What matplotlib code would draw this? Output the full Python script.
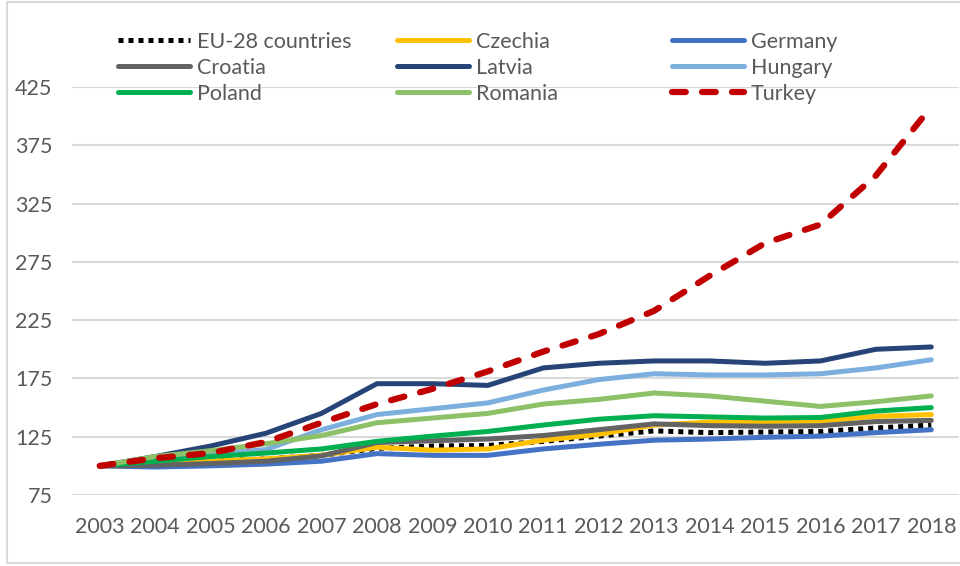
import matplotlib
matplotlib.use("Agg")
import matplotlib.pyplot as plt
from matplotlib.patches import Rectangle

plt.rcParams['font.family'] = ['Lato', 'DejaVu Sans']

years = ["2003", "2004", "2005", "2006", "2007", "2008", "2009", "2010",
         "2011", "2012", "2013", "2014", "2015", "2016", "2017", "2018"]

eu28    = [100, 102, 104, 106, 109, 115, 117, 117.5, 121, 125.5, 130, 128.5, 129, 129.5, 132.5, 135]
czechia = [100, 102, 104, 106, 109, 116, 113.5, 114.5, 122, 127, 135, 137.5, 138, 138.5, 142.5, 144]
germany = [100, 99, 100, 101.5, 104, 110.5, 109, 109, 114.5, 118.5, 122, 123, 124.5, 125.5, 128.5, 131]
croatia = [100, 100.5, 102, 104, 108.5, 120, 121.5, 123, 126, 131, 136, 134.5, 134, 134.5, 138, 139]
latvia  = [100, 108, 117, 128, 145, 170.5, 170.5, 169, 184, 188, 190, 190, 188, 190, 200, 202]
hungary = [100, 106, 110, 114, 131, 144, 149, 154, 165, 174, 179, 178, 178, 179, 184, 191]
poland  = [100, 104, 108, 111, 114.5, 121, 125.5, 129.5, 135, 140, 143, 142, 141, 141.5, 147, 150]
romania = [100, 108, 113, 119, 126, 137, 141, 145, 153, 157, 162.5, 160, 155.5, 151, 155, 160]
turkey  = [100, 106.5, 111, 120.5, 137, 153, 166, 181, 198, 213, 233, 263, 291, 307, 349, 408]

y_ticks = [75, 125, 175, 225, 275, 325, 375, 425]

series = [
    ("EU-28 countries", eu28,    "#000000", "dot"),
    ("Czechia",         czechia, "#FFC000", "solid"),
    ("Germany",         germany, "#4472C4", "solid"),
    ("Croatia",         croatia, "#636363", "solid"),
    ("Latvia",          latvia,  "#264478", "solid"),
    ("Hungary",         hungary, "#7DAFDE", "solid"),
    ("Poland",          poland,  "#00B050", "solid"),
    ("Romania",         romania, "#8CC168", "solid"),
    ("Turkey",          turkey,  "#C00000", "dash"),
]

W, H = 960, 566
fig = plt.figure(figsize=(W / 100, H / 100), dpi=100)
ax = fig.add_axes([72 / W, 71 / H, 887 / W, 408 / H])

x = list(range(len(years)))
handles = []
for i, (name, vals, color, style) in enumerate(series):
    if style == "dot":
        ln, = ax.plot(x, vals, color=color, lw=3.6, zorder=3 + i)
        ln.set_dashes((1.0, 1.0))
        ln.set_dash_capstyle("butt")
    elif style == "dash":
        ln, = ax.plot(x, vals, color=color, lw=4.5, zorder=3 + i)
        ln.set_dashes((2.2, 2.6))
        ln.set_dash_capstyle("round")
    else:
        ln, = ax.plot(x, vals, color=color, lw=3.6, solid_capstyle="round",
                      solid_joinstyle="round", zorder=3 + i)
    handles.append(ln)

ax.set_xlim(-0.5, len(years) - 0.5)
ax.set_ylim(75, 425)
ax.set_yticks(y_ticks)
ax.set_xticks(x)
ax.set_xticklabels(years)
ax.grid(axis="y", color="#D9D9D9", lw=1.5, zorder=0)
ax.set_axisbelow(True)
for sp in ax.spines.values():
    sp.set_visible(False)
ax.tick_params(axis="both", length=0, labelsize=15.5, labelcolor="#595959")
ax.tick_params(axis="y", pad=14)
ax.tick_params(axis="x", pad=15.5)

# three-column legend laid out row by row
labels = [s[0] for s in series]
col_x = [118 / W, 397 / W, 672 / W]
for c in range(3):
    idx = [c, c + 3, c + 6]
    leg = fig.legend([handles[k] for k in idx], [labels[k] for k in idx],
                     loc="upper left", bbox_to_anchor=(col_x[c], 1 - 32 / H),
                     frameon=False, handlelength=3.35, handletextpad=0.3,
                     borderaxespad=0, borderpad=0, labelspacing=0.27,
                     prop={"size": 15.5})
    for t in leg.get_texts():
        t.set_color("#595959")

# light chart border
fig.add_artist(Rectangle((6.5 / W, 3 / H), 980 / W, 561.5 / H,
                         transform=fig.transFigure, fill=False,
                         edgecolor="#D9D9D9", lw=1.5))

fig.savefig("out.png", dpi=100)
